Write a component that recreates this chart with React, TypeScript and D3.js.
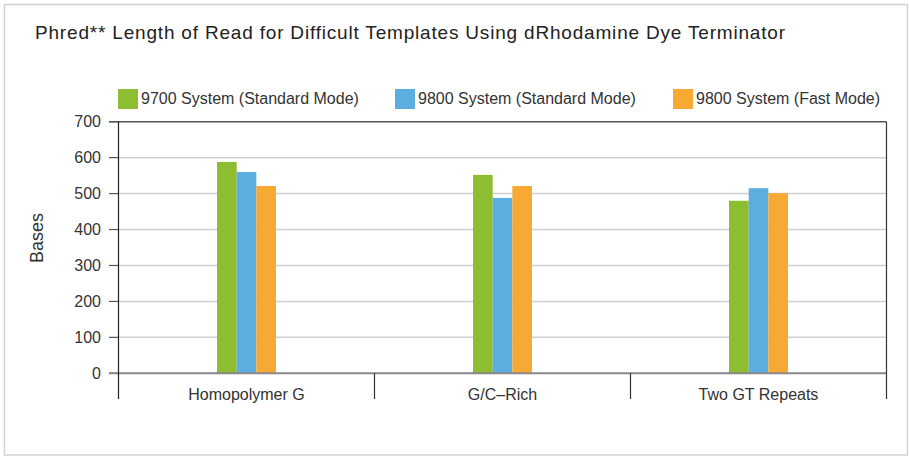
import React from 'react';
import * as d3 from 'd3';

const title = 'Phred** Length of Read for Difficult Templates Using dRhodamine Dye Terminator';
const categories = ['Homopolymer G', 'G/C\u2013Rich', 'Two GT Repeats'];
const seriesNames = ['9700 System (Standard Mode)', '9800 System (Standard Mode)', '9800 System (Fast Mode)'];
const seriesColors = ['#8dbd31', '#5daee0', '#f6aa33'];
const s9700Std = [588, 552, 480];
const s9800Std = [560, 488, 515];
const s9800Fast = [521, 521, 501];
const yTicks = [0, 100, 200, 300, 400, 500, 600, 700];
const yLabel = 'Bases';

const seriesValues = [s9700Std, s9800Std, s9800Fast];

const W = 909;
const H = 456;
const FONT = '"Liberation Sans", Arial, Helvetica, sans-serif';

export default function App() {
  const left = 118.5;
  const right = 886.5;
  const top = 121.7;
  const bottom = 373.3;
  const x = d3.scaleBand<string>().domain(categories).range([left, right]).padding(0);
  const inner = d3.scaleBand<string>().domain(seriesNames).range([-29.5, 29.5]).padding(0);
  const y = d3.scaleLinear().domain([0, 700]).range([bottom, top]);
  const legendX = [118, 395, 673];

  return (
    <svg width={W} height={H} style={{ position: 'absolute', left: 0, top: 0, background: '#fff' }} fontFamily={FONT}>
      <rect x={4.5} y={4.5} width={903} height={450.5} fill="#fff" stroke="#d2d2d2" strokeWidth={1.5} />
      <text x={35} y={39} fontSize={19} fill="#222" textLength={750} lengthAdjust="spacing">{title}</text>

      {seriesNames.map((s, i) => (
        <g key={s}>
          <rect x={legendX[i]} y={89} width={20} height={20} fill={seriesColors[i]} />
          <text x={legendX[i] + 23} y={104} fontSize={16} fill="#333">{s}</text>
        </g>
      ))}

      {/* gridlines */}
      {yTicks.filter(t => t !== 0 && t !== 700).map(t => (
        <line key={t} x1={left} x2={right} y1={y(t)} y2={y(t)} stroke="#cfcfcf" strokeWidth={1.5} />
      ))}
      {/* ticks */}
      {yTicks.map(t => (
        <g key={'t' + t}>
          <line x1={109} x2={left} y1={y(t)} y2={y(t)} stroke="#555" strokeWidth={1.2} />
          <text x={101} y={y(t)} dy="0.35em" textAnchor="end" fontSize={16} fill="#333">{t}</text>
        </g>
      ))}

      {/* bars */}
      {categories.map((c, ci) => (
        <g key={c}>
          {seriesNames.map((s, si) => {
            const v = seriesValues[si][ci];
            const cx = (x(c) as number) + x.bandwidth() / 2;
            return (
              <rect key={s} x={cx + (inner(s) as number)} y={y(v)} width={inner.bandwidth()} height={y(0) - y(v)} fill={seriesColors[si]} />
            );
          })}
        </g>
      ))}

      {/* top line */}
      <line x1={109} x2={right} y1={y(700)} y2={y(700)} stroke="#555" strokeWidth={1.5} />
      {/* zero line */}
      <line x1={109} x2={right} y1={y(0)} y2={y(0)} stroke="#888" strokeWidth={2} />
      {/* axis & dividers */}
      <line x1={left} x2={left} y1={top} y2={399} stroke="#222" strokeWidth={1.2} />
      {categories.map(c => {
        const xx = (x(c) as number) + x.bandwidth();
        const isLast = c === categories[categories.length - 1];
        return <line key={'d' + c} x1={xx} x2={xx} y1={isLast ? top : y(0)} y2={399} stroke="#333" strokeWidth={1.2} />;
      })}
      {categories.map(c => (
        <text key={'l' + c} x={(x(c) as number) + x.bandwidth() / 2} y={400} textAnchor="middle" fontSize={16} fill="#333">{c}</text>
      ))}

      <text transform={`translate(43, ${238}) rotate(-90)`} textAnchor="middle" fontSize={18} fill="#333">{yLabel}</text>
    </svg>
  );
}
